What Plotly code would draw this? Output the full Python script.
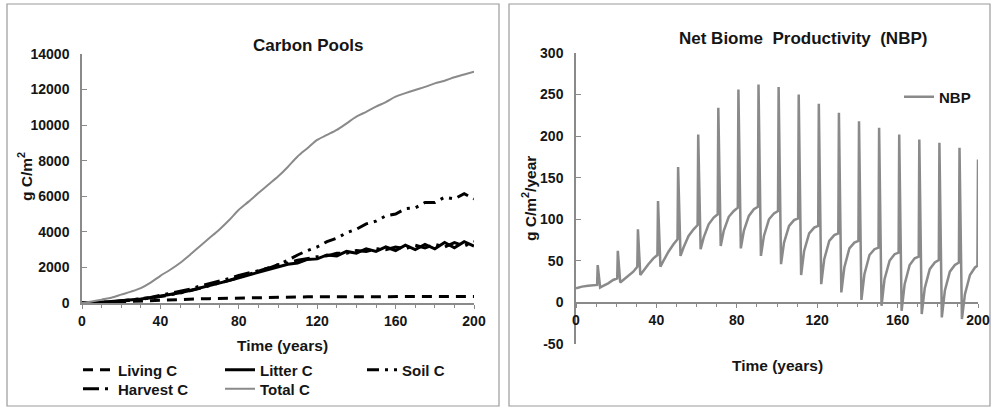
import plotly.graph_objects as go

# ---------------- data ----------------
years = list(range(0, 205, 5))

living_c = [0, 20, 40, 70, 100, 125, 150, 170, 190, 195, 200, 215, 230, 245, 260, 270,
            280, 290, 300, 315, 330, 335, 340, 345, 350, 350, 355, 355, 350, 355, 360,
            360, 365, 360, 365, 360, 365, 360, 365, 360, 360]

litter_c = [0, 10, 40, 80, 120, 170, 230, 300, 380, 480, 580, 700, 830, 960, 1100, 1260,
            1420, 1570, 1720, 1850, 2000, 2180, 2250, 2450, 2480, 2700, 2650, 2900, 2800,
            3050, 2900, 3150, 2950, 3250, 3000, 3300, 3050, 3400, 3100, 3450, 3200]

soil_c = [0, 10, 30, 60, 100, 150, 210, 280, 360, 450, 560, 680, 820, 960, 1110, 1270,
          1430, 1600, 1780, 1960, 2150, 2400, 2700, 2950, 3150, 3450, 3650, 3950, 4150,
          4450, 4600, 4900, 5000, 5300, 5350, 5650, 5650, 5950, 5850, 6150, 5850]

harvest_c = [0, 0, 30, 60, 110, 160, 240, 310, 420, 520, 650, 780, 950, 1080, 1250, 1380,
             1550, 1680, 1850, 1950, 2150, 2250, 2400, 2500, 2600, 2650, 2800, 2800, 2950,
             2900, 3050, 3000, 3150, 3050, 3250, 3100, 3300, 3150, 3400, 3200, 3450]

total_c = [0, 80, 190, 300, 470, 640, 840, 1150, 1530, 1870, 2250, 2700, 3180, 3650, 4120,
           4650, 5240, 5700, 6180, 6650, 7110, 7650, 8240, 8700, 9170, 9450, 9730, 10100,
           10480, 10750, 11040, 11300, 11600, 11800, 11980, 12150, 12350, 12500, 12690,
           12850, 13010]

nbp_t = [0, 3, 6, 10.5,
         10.8, 12, 13.5, 16, 18.5, 20.5,
         20.8, 22, 23.5, 26, 28.5, 30.5,
         30.8, 32, 33.5, 36, 38.5, 40.5,
         40.8, 42, 43.5, 46, 48.5, 50.5,
         50.8, 52, 53.5, 56, 58.5, 60.5,
         60.8, 62, 63.5, 66, 68.5, 70.5,
         70.8, 72, 73.5, 76, 78.5, 80.5,
         80.8, 82, 83.5, 86, 88.5, 90.5,
         90.8, 92, 93.5, 96, 98.5, 100.5,
         100.8, 102, 103.5, 106, 108.5, 110.5,
         110.8, 112, 113.5, 116, 118.5, 120.5,
         120.8, 122, 123.5, 126, 128.5, 130.5,
         130.8, 132, 133.5, 136, 138.5, 140.5,
         140.8, 142, 143.5, 146, 148.5, 150.5,
         150.8, 152, 153.5, 156, 158.5, 160.5,
         160.8, 162, 163.5, 166, 168.5, 170.5,
         170.8, 172, 173.5, 176, 178.5, 180.5,
         180.8, 182, 183.5, 186, 188.5, 190.5,
         190.8, 192, 193.5, 196, 198.5, 199.7, 200]

nbp_v = [17, 19, 20, 21,
         45, 18, 20, 23, 27, 29,
         62, 24, 27, 32, 37, 43,
         88, 33, 38, 46, 53, 57,
         122, 43, 50, 61, 70, 76,
         163, 56, 66, 80, 88, 93,
         202, 64, 78, 94, 102, 106,
         234, 68, 86, 103, 110, 114,
         256, 65, 86, 104, 112, 115,
         262, 56, 80, 100, 107, 110,
         259, 46, 72, 92, 99, 101,
         250, 33, 62, 83, 90, 92,
         239, 22, 52, 74, 81, 83,
         228, 12, 42, 65, 72, 74,
         218, 3, 34, 57, 64, 66,
         210, -4, 28, 50, 58, 60,
         202, -10, 22, 45, 53, 55,
         196, -14, 17, 40, 48, 51,
         192, -18, 14, 37, 45, 48,
         186, -20, 10, 33, 42, 44, 172]

x_ticks = [0, 40, 80, 120, 160, 200]
nbp_ticks = [-50, 0, 50, 100, 150, 200, 250, 300]
nbp_tick_text = ["-50", "0", "50", "100", "150", "200", "250", "300"]

# ---------------- helpers (layout only) ----------------
W, H = 992, 408
def px(x):
    return x / W
def py(y):
    return 1 - y / H

FAM = "Liberation Sans, Arial, sans-serif"
TXT = "#151515"
AX = "#8a8a8a"
GRAY = "#8a8a8a"

tickfont = dict(family=FAM, size=14, color=TXT, weight="bold")

fig = go.Figure()

fig.add_trace(go.Scatter(x=years, y=living_c, name="Living C", mode="lines",
                         line=dict(color="black", width=3, dash="10px,7px"),
                         xaxis="x", yaxis="y", legend="legend"))
fig.add_trace(go.Scatter(x=years, y=litter_c, name="Litter C", mode="lines",
                         line=dict(color="black", width=3),
                         xaxis="x", yaxis="y", legend="legend"))
fig.add_trace(go.Scatter(x=years, y=soil_c, name="Soil C", mode="lines",
                         line=dict(color="black", width=3, dash="12px,6px,3px,6px,3px,6px"),
                         xaxis="x", yaxis="y", legend="legend"))
fig.add_trace(go.Scatter(x=years, y=harvest_c, name="Harvest C", mode="lines",
                         line=dict(color="black", width=3, dash="16px,6px,3px,6px"),
                         xaxis="x", yaxis="y", legend="legend2"))
fig.add_trace(go.Scatter(x=years, y=total_c, name="Total C", mode="lines",
                         line=dict(color=GRAY, width=2, shape="spline", smoothing=0.8),
                         xaxis="x", yaxis="y", legend="legend2"))
fig.add_trace(go.Scatter(x=nbp_t, y=nbp_v, name="NBP", mode="lines",
                         line=dict(color=GRAY, width=2.5),
                         xaxis="x2", yaxis="y2", legend="legend3"))

common_x = dict(range=[0, 200], tickmode="array", tickvals=x_ticks,
                showline=True, linecolor=AX, linewidth=1.5,
                ticks="outside", ticklen=4, tickcolor=AX, tickwidth=1,
                minor=dict(tickmode="linear", tick0=0, dtick=10, ticks="outside",
                           ticklen=3, tickcolor=AX),
                showgrid=False, zeroline=False, tickfont=tickfont, fixedrange=True,
                automargin=False)

legend_common = dict(orientation="h", xanchor="left", yanchor="middle",
                     font=dict(family=FAM, size=15, color=TXT, weight="bold"),
                     bgcolor="rgba(0,0,0,0)", itemwidth=30,
                     entrywidth=97, entrywidthmode="pixels", borderwidth=0)

fig.update_layout(
    width=W, height=H, autosize=False,
    margin=dict(l=0, r=0, t=0, b=0, autoexpand=False),
    paper_bgcolor="white", plot_bgcolor="rgba(0,0,0,0)",
    font=dict(family=FAM, color=TXT),
    xaxis=dict(domain=[px(82), px(474)], anchor="y", **common_x),
    yaxis=dict(domain=[py(303), py(54)], anchor="x", range=[0, 14000],
               tickmode="linear", tick0=0, dtick=2000, tickformat="d",
               showline=True, linecolor=AX, linewidth=1.5,
               ticks="inside", ticklen=5, tickcolor=AX,
               showgrid=False, zeroline=False, tickfont=tickfont,
               ticklabelstandoff=8, fixedrange=True, automargin=False),
    xaxis2=dict(domain=[px(576), px(978)], anchor="free", position=py(303), **common_x),
    yaxis2=dict(domain=[py(344), py(53)], anchor="x2", range=[-50, 300],
                tickmode="array", tickvals=nbp_ticks, ticktext=nbp_tick_text,
                showline=True, linecolor=AX, linewidth=1.5,
                ticks="inside", ticklen=5, tickcolor=AX,
                showgrid=False, zeroline=False, tickfont=tickfont,
                ticklabelstandoff=8, fixedrange=True, automargin=False),
    legend=dict(x=px(78), y=py(370), **legend_common),
    legend2=dict(x=px(78), y=py(389), **legend_common),
    legend3=dict(x=px(899), y=py(97), orientation="h", xanchor="left", yanchor="middle",
                 font=dict(family=FAM, size=15, color=TXT, weight="bold"),
                 bgcolor="rgba(0,0,0,0)", itemwidth=30),
    showlegend=True,
)

def ann(text, x, y, size, angle=0):
    fig.add_annotation(text=text, x=px(x), y=py(y), xref="paper", yref="paper",
                       showarrow=False, xanchor="center", yanchor="middle",
                       textangle=angle,
                       font=dict(family=FAM, size=size, color=TXT, weight="bold"))

ann("Carbon Pools", 308, 45, 17)
ann("Net Biome\u00a0 Productivity\u00a0 (NBP)", 803, 38, 17)
ann("Time (years)", 282, 345, 15.5)
ann("Time (years)", 777, 365, 15.5)
ann("g C/m<sup>2</sup>", 25, 177, 15.5, -90)
ann("g C/m<sup>2</sup>/year", 529, 199, 15.5, -90)

# panel frames
for x0, x1 in [(7, 499), (509, 990)]:
    fig.add_shape(type="rect", xref="paper", yref="paper",
                  x0=px(x0), x1=px(x1), y0=py(406), y1=py(4),
                  line=dict(color="#9a9a9a", width=1.2), fillcolor="rgba(0,0,0,0)",
                  layer="below")

post = (
    "document.documentElement.style.margin='0';"
    "document.documentElement.style.padding='0';"
    "document.documentElement.style.overflow='hidden';"
    "document.body.style.margin='0';"
    "document.body.style.padding='0';"
    "document.body.style.overflow='hidden';"
    "var gd=document.getElementById('{plot_id}');"
    "Plotly.relayout(gd,{width:992,height:408});"
)

fig.write_html("out.html", config={"displayModeBar": False, "responsive": False},
               default_width="992px", default_height="408px", post_script=post)
